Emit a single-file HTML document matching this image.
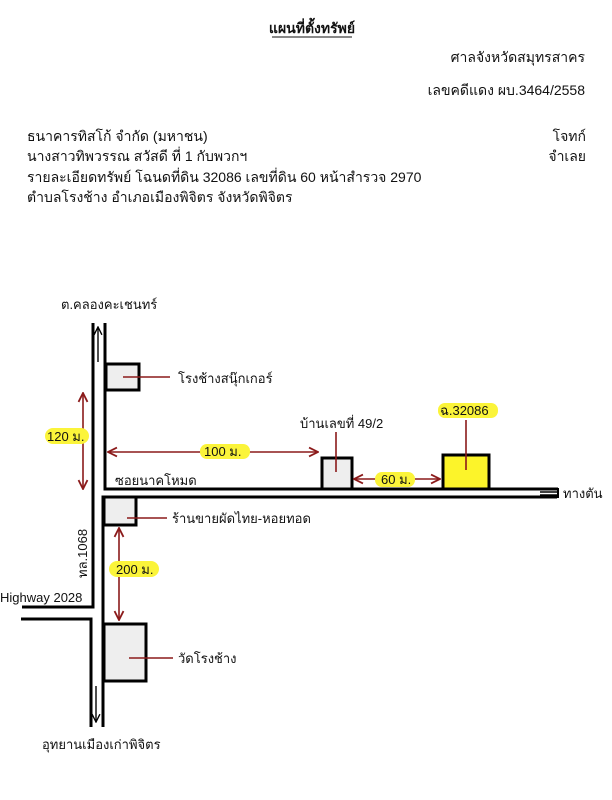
<!DOCTYPE html>
<html><head><meta charset="utf-8"><style>
html,body{margin:0;padding:0;background:#fff;}
svg{display:block;}
text{font-family:"Liberation Sans","Noto Sans CJK SC",sans-serif;fill:#111;}
</style></head><body>
<svg width="612" height="800" viewBox="0 0 612 800" xmlns="http://www.w3.org/2000/svg">
<defs>
<marker id="a" viewBox="0 0 10 10" refX="9" refY="5" markerWidth="7" markerHeight="7" orient="auto-start-reverse"><path d="M1,1 L9,5 L1,9" fill="none" stroke="#8b1a1a" stroke-width="1.6"/></marker>
<marker id="b" viewBox="0 0 10 10" refX="9" refY="5" markerWidth="7" markerHeight="7" orient="auto"><path d="M1,1 L9,5 L1,9" fill="none" stroke="#000" stroke-width="1.4"/></marker>
</defs>
<!-- header -->
<text x="312" y="33" font-size="14" font-weight="bold" text-anchor="middle">แผนที่ตั้งทรัพย์</text>
<line x1="272" y1="37" x2="352" y2="37" stroke="#111" stroke-width="1"/>
<text x="585" y="62" font-size="14" text-anchor="end">ศาลจังหวัดสมุทรสาคร</text>
<text x="585" y="95" font-size="14" text-anchor="end">เลขคดีแดง ผบ.3464/2558</text>
<text x="27" y="141" font-size="14">ธนาคารทิสโก้ จำกัด (มหาชน)</text>
<text x="27" y="161" font-size="14">นางสาวทิพวรรณ สวัสดี ที่ 1 กับพวกฯ</text>
<text x="27" y="182" font-size="14">รายละเอียดทรัพย์ โฉนดที่ดิน 32086 เลขที่ดิน 60 หน้าสำรวจ 2970</text>
<text x="27" y="202" font-size="14">ตำบลโรงช้าง อำเภอเมืองพิจิตร จังหวัดพิจิตร</text>
<text x="586" y="141" font-size="14" text-anchor="end">โจทก์</text>
<text x="586" y="161" font-size="14" text-anchor="end">จำเลย</text>

<!-- roads -->
<g stroke="#000" stroke-width="3" fill="none">
<polyline points="93,323 93,607 22,607"/>
<polyline points="21,619 91,619 91,727"/>
<polyline points="105,323 105,489 558,489"/>
<polyline points="557,497 103,497 103,727"/>
</g>
<line x1="540" y1="492" x2="558" y2="492" stroke="#000" stroke-width="1.5"/>
<line x1="540" y1="495" x2="558" y2="495" stroke="#000" stroke-width="1.5"/>
<line x1="558" y1="488" x2="558" y2="498" stroke="#000" stroke-width="2"/>
<line x1="98" y1="362" x2="98" y2="327" stroke="#000" stroke-width="1.4" marker-end="url(#b)"/>
<line x1="96" y1="686" x2="96" y2="722" stroke="#000" stroke-width="1.4" marker-end="url(#b)"/>

<!-- boxes -->
<g stroke="#000" stroke-width="3" fill="#eeeeee">
<rect x="106" y="364" width="33" height="26"/>
<rect x="104" y="497" width="32" height="28"/>
<rect x="104" y="624" width="42" height="57"/>
<rect x="322" y="458" width="30" height="31"/>
<rect x="443" y="455" width="46" height="34" fill="#fcf42a"/>
</g>

<!-- leaders -->
<g stroke="#8b1a1a" stroke-width="1.6">
<line x1="123" y1="377" x2="170" y2="377"/>
<line x1="127" y1="518" x2="167" y2="518"/>
<line x1="129" y1="658" x2="173" y2="658"/>
<line x1="336" y1="432" x2="336" y2="472"/>
<line x1="466" y1="420" x2="466" y2="470"/>
</g>

<!-- dimensions -->
<g stroke="#8b1a1a" stroke-width="1.6" fill="none">
<line x1="83" y1="393" x2="83" y2="489" marker-start="url(#a)" marker-end="url(#a)"/>
<line x1="108" y1="452" x2="318" y2="452" marker-start="url(#a)" marker-end="url(#a)"/>
<line x1="354" y1="479" x2="440" y2="479" marker-start="url(#a)" marker-end="url(#a)"/>
<line x1="119" y1="528" x2="119" y2="620" marker-start="url(#a)" marker-end="url(#a)"/>
</g>
<g fill="#fbf43a">
<rect x="45" y="428" width="44" height="16" rx="8"/>
<rect x="200" y="444" width="50" height="15" rx="7"/>
<rect x="375" y="472" width="40" height="15" rx="7"/>
<rect x="109" y="561" width="50" height="16" rx="8"/>
<rect x="438" y="403" width="60" height="15" rx="7"/>
</g>
<text x="47" y="441" font-size="13">120 ม.</text>
<text x="204" y="456" font-size="13">100 ม.</text>
<text x="381" y="484" font-size="13">60 ม.</text>
<text x="116" y="574" font-size="13">200 ม.</text>
<text x="440" y="415" font-size="13">ฉ.32086</text>

<!-- labels -->
<text x="61" y="309" font-size="13">ต.คลองคะเชนทร์</text>
<text x="178" y="383" font-size="13">โรงช้างสนุ๊กเกอร์</text>
<text x="300" y="428" font-size="13">บ้านเลขที่ 49/2</text>
<text x="115" y="485" font-size="13">ซอยนาคโหมด</text>
<text x="563" y="498" font-size="13">ทางตัน</text>
<text x="172" y="523" font-size="13">ร้านขายผัดไทย-หอยทอด</text>
<text x="178" y="663" font-size="13">วัดโรงช้าง</text>
<text x="0" y="602" font-size="13">Highway 2028</text>
<text x="42" y="749" font-size="13">อุทยานเมืองเก่าพิจิตร</text>
<text x="0" y="0" font-size="13" transform="translate(87,578) rotate(-90)">ทล.1068</text>
</svg>
</body></html>
